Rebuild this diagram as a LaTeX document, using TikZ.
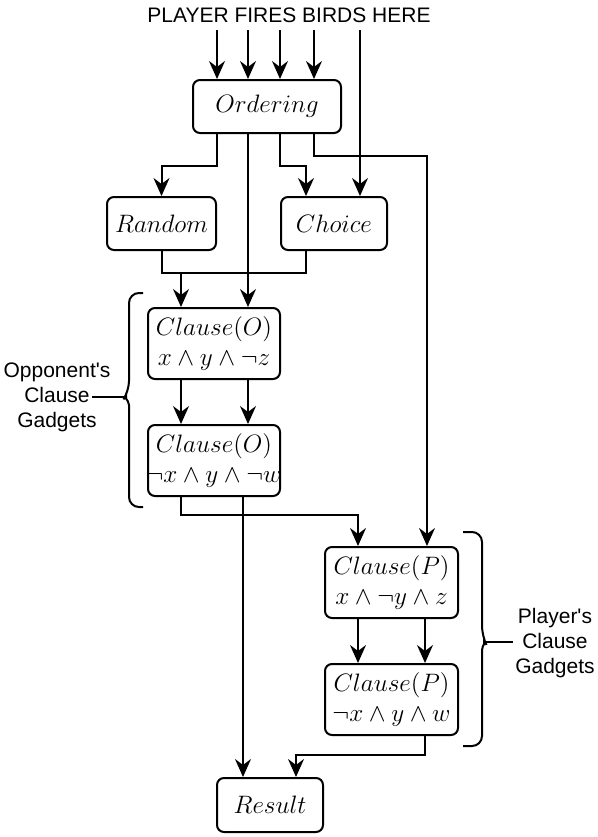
\RequirePackage{fix-cm}
\documentclass[tikz,border=0pt]{standalone}
\usepackage{fontspec}
\setsansfont{Liberation Sans}
\usetikzlibrary{positioning,arrows.meta}

\tikzset{
  gadget/.style={draw, line width=1pt, rounded corners=3.5pt, align=center, inner sep=2pt, font=\fontsize{12.6}{15}\selectfont},
  arr/.style={line width=1pt, -{Stealth[length=9pt,width=8pt,inset=3pt]}},
  wire/.style={line width=1pt},
  gbrace/.style={line width=1pt},
  lab/.style={font=\sffamily\fontsize{10.5}{12.5}\selectfont, align=center}
}

\begin{document}
\begin{tikzpicture}
[x=0.5pt, y=-0.5pt, node distance=22pt]
\useasboundingbox (0,0) rectangle (598,837);

\node (title) [lab] at (289,15) {PLAYER FIRES BIRDS HERE};

\node (ord) [gadget, minimum width=74pt, minimum height=26.5pt] at (267,106.5) {$Ordering$};
\node (rand) [gadget, minimum width=54.5pt, minimum height=26.5pt] at (161.5,223.5) {$Random$};
\node (choice) [gadget, minimum width=53pt, minimum height=26.5pt] at (334,223.5) {$Choice$};

\node (co1) [gadget, minimum width=66pt, minimum height=35.5pt] at (214,343.5) {$Clause(O)$\\$x\wedge y\wedge\neg z$};
\node (co2) [gadget, minimum width=66pt, minimum height=35.5pt, below=of co1] {$Clause(O)$\\\makebox[62pt]{$\neg x\wedge y\wedge\neg w$}};
\node (cp1) [gadget, minimum width=66.5pt, minimum height=35.5pt] at (391.5,582.5) {$Clause(P)$\\$x\wedge\neg y\wedge z$};
\node (cp2) [gadget, minimum width=66.5pt, minimum height=35.5pt, below=of cp1] {$Clause(P)$\\$\neg x\wedge y\wedge w$};

\node (res) [gadget, minimum width=53pt, minimum height=27pt] at (270,805) {$Result$};

% birds coming in
\foreach \x [count=\i] in {217,248,280,314,360}
  \coordinate (in\i) at (\x,30);
\foreach \i in {1,...,4}
  \draw[arr] (in\i) -- (in\i |- ord.north);
\draw[arr] (in5) -- (in5 |- choice.north);

\draw[arr] ([xshift=-25pt]ord.south) -- ++(0,32) -| (rand.north);
\draw[arr] ([xshift=-9.5pt]ord.south) -- ([xshift=17pt]co1.north);
\draw[arr] ([xshift=6.5pt]ord.south) -- ++(0,32) -| ([xshift=-14pt]choice.north);
\draw[arr] ([xshift=23.5pt]ord.south) -- ++(0,22) -| ([xshift=17.75pt]cp1.north);

\draw[wire] (rand.south) -- ++(0,22) coordinate (rc) -| ([xshift=-14pt]choice.south);
\coordinate (co1in) at ([xshift=-16.5pt]co1.north);
\draw[arr] (co1in |- rc) -- (co1in);

\foreach \s in {-16.5pt,17pt}
  \draw[arr] ([xshift=\s]co1.south) -- ([xshift=\s]co2.north);
\draw[arr] ([xshift=-16.5pt]co2.south) -- ++(0,18) -| ([xshift=-16.75pt]cp1.north);
\draw[arr] ([xshift=14.5pt]co2.south) -- ([xshift=-13.5pt]res.north);

\foreach \s in {-16.75pt,16.75pt}
  \draw[arr] ([xshift=\s]cp1.south) -- ([xshift=\s]cp2.north);
\draw[arr] ([xshift=16.75pt]cp2.south) -- ++(0,19) -| ([xshift=13pt]res.north);

% gadget groups
\coordinate (ob1) at (143,507);
\coordinate (ob2) at (143,293);
\coordinate (obt) at (125,397);
\draw[gbrace] (ob2) [rounded corners=5pt] -- (129,293) -- (129,391)
  [rounded corners=1pt] -- (obt) -- (129,403) [rounded corners=5pt] -- (129,507) -- (ob1);
\coordinate (olend) at (92,397);
\draw[wire] (obt) -- (olend);
\node (olab) [lab] at (57,397) {Opponent\textquotesingle s\\Clause\\Gadgets};

\coordinate (pb1) at (463,532);
\coordinate (pb2) at (463,746);
\coordinate (pbt) at (485,642);
\draw[gbrace] (pb1) [rounded corners=5pt] -- (482,532) -- (482,636)
  [rounded corners=1pt] -- (pbt) -- (482,648) [rounded corners=5pt] -- (482,746) -- (pb2);
\coordinate (plend) at (513,642);
\draw[wire] (pbt) -- (plend);
\node (plab) [lab] at (555,643) {Player\textquotesingle s\\Clause\\Gadgets};

\end{tikzpicture}
\end{document}
